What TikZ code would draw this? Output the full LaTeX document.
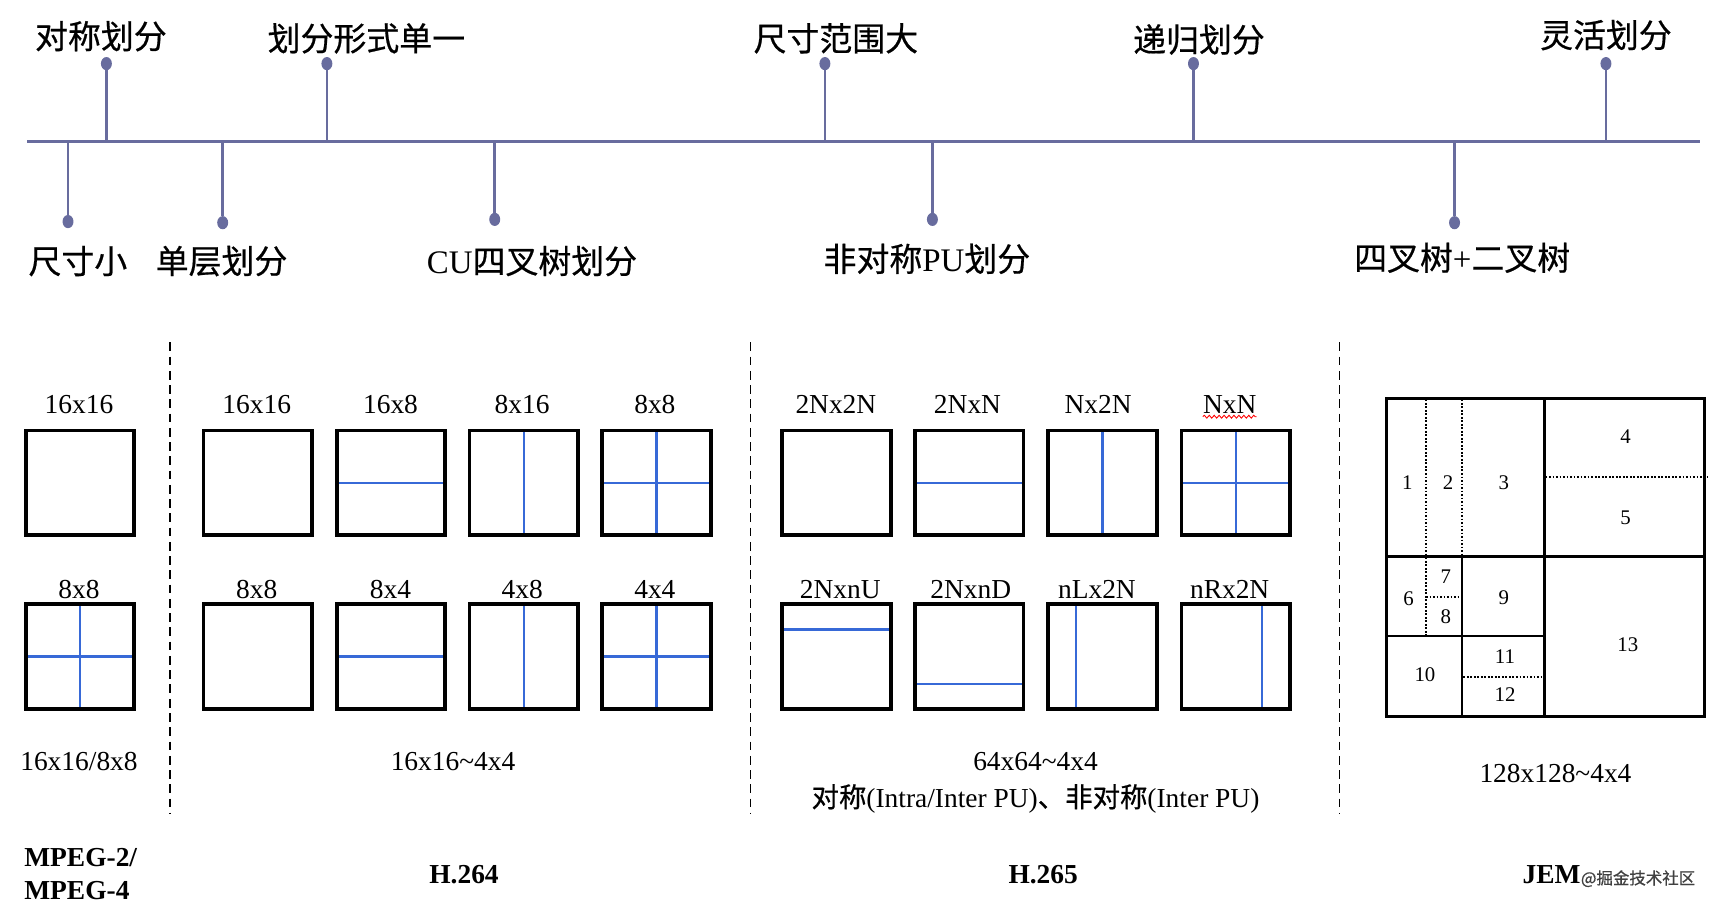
\documentclass[tikz,border=0pt]{standalone}
\usepackage{fontspec}
\setmainfont{Liberation Serif}
\newfontfamily\cjk[FakeBold=0.6]{Noto Sans CJK SC}
\usetikzlibrary{backgrounds,calc,decorations.pathmorphing,shapes.geometric}
\definecolor{tl}{RGB}{104,108,158}
\definecolor{pblue}{RGB}{55,105,215}
\newcommand\zh[1]{{\cjk #1}}
\begin{document}
\begin{tikzpicture}[x=1pt,y=-1pt,
  cell/.style={draw, line width=3.5pt, minimum width=99pt, minimum height=95pt, inner sep=0pt, outer sep=0pt},
  lbl/.style={font=\fontsize{25}{30}\selectfont, inner sep=0pt},
  zhlbl/.style={font=\fontsize{30}{36}\selectfont, inner sep=0pt},
  ttl/.style={font=\bfseries\fontsize{25}{30}\selectfont, inner sep=0pt},
  num/.style={font=\fontsize{19}{22}\selectfont, inner sep=0pt},
  dot/.style={ellipse, fill=tl, inner sep=0pt, minimum width=10pt, minimum height=12pt},
  tline/.style={tl, line width=3pt},
  stem/.style={tl, line width=2.5pt},
  split/.style={pblue, line width=2pt},
  sepline/.style={dash pattern=on 8pt off 5pt, line width=1.3pt},
  thick3/.style={line width=3pt},
  thin2/.style={line width=1.8pt},
  dots/.style={dash pattern=on 1.6pt off 1.6pt, line width=1.6pt}
]
\useasboundingbox (0,0) rectangle (1568,826);

% ---------- timeline ----------
\coordinate (tlA) at (25,129);
\coordinate (tlB) at (1550,129);
\draw[tline] (tlA) -- (tlB);

% upward stems
\foreach \n/\x in {u1/97,u2/298,u3/752,u4/1088,u5/1464}{
  \coordinate (\n b) at (\x,129);
  \node[dot] (\n) at (\x,58) {};
  \draw[stem] (\n b) -- (\n);
}
% downward stems
\foreach \n/\x/\y in {d1/62/202,d2/203/203,d3/451/200,d4/850/200,d5/1326/203}{
  \coordinate (\n b) at (\x,129);
  \node[dot] (\n) at (\x,\y) {};
  \draw[stem] (\n b) -- (\n);
}

\node[zhlbl] (tu1) at (92,33) {\zh{对称划分}};
\node[zhlbl] (tu2) at (334,35) {\zh{划分形式单一}};
\node[zhlbl] (tu3) at (762,35) {\zh{尺寸范围大}};
\node[zhlbl] (tu4) at (1093,36) {\zh{递归划分}};
\node[zhlbl] (tu5) at (1464,32) {\zh{灵活划分}};
\node[zhlbl] (td1) at (71,238) {\zh{尺寸小}};
\node[zhlbl] (td2) at (202,238) {\zh{单层划分}};
\node[zhlbl] (td3) at (485,238) {CU\zh{四叉树划分}};
\node[zhlbl] (td4) at (845,236) {\zh{非对称}PU\zh{划分}};
\node[zhlbl] (td5) at (1333,235) {\zh{四叉树}+\zh{二叉树}};

% ---------- separators ----------
\foreach \n/\x in {s1/155,s2/684,s3/1221}{
  \coordinate (\n t) at (\x,312);
  \coordinate (\n b) at (\x,742);
  \draw[sepline] (\n t) -- (\n b);
}

% ---------- MPEG ----------
\node[cell] (m1) at (73,440) {};
\node[cell] (m2) at (73,598.5) {};
\node[lbl] (lm1) at (72,369) {16x16};
\node[lbl] (lm2) at (72,537) {8x8};

% ---------- H.264 ----------
\node[cell] (a1) at (235,440) {};
\node[cell] (a2) at (356.5,440) {};
\node[cell] (a3) at (477.5,440) {};
\node[cell] (a4) at (598.5,440) {};
\node[cell] (b1) at (235,598.5) {};
\node[cell] (b2) at (356.5,598.5) {};
\node[cell] (b3) at (477.5,598.5) {};
\node[cell] (b4) at (598.5,598.5) {};
\node[lbl] (la1) at (234,369) {16x16};
\node[lbl] (la2) at (356,369) {16x8};
\node[lbl] (la3) at (476,369) {8x16};
\node[lbl] (la4) at (597,369) {8x8};
\node[lbl] (lb1) at (234,537) {8x8};
\node[lbl] (lb2) at (356,537) {8x4};
\node[lbl] (lb3) at (476,537) {4x8};
\node[lbl] (lb4) at (597,537) {4x4};

% ---------- H.265 ----------
\node[cell] (c1) at (762.5,440) {};
\node[cell] (c2) at (883.5,440) {};
\node[cell] (c3) at (1005,440) {};
\node[cell] (c4) at (1126.5,440) {};
\node[cell] (e1) at (762.5,598.5) {};
\node[cell] (e2) at (883.5,598.5) {};
\node[cell] (e3) at (1005,598.5) {};
\node[cell] (e4) at (1126.5,598.5) {};
\node[lbl] (lc1) at (762,369) {2Nx2N};
\node[lbl] (lc2) at (882,369) {2NxN};
\node[lbl] (lc3) at (1001,369) {Nx2N};
\node[lbl] (lc4) at (1121,369) {NxN};
\node[lbl] (le1) at (766,537) {2NxnU};
\node[lbl] (le2) at (885,537) {2NxnD};
\node[lbl] (le3) at (1000,537) {nLx2N};
\node[lbl] (le4) at (1121,537) {nRx2N};
\draw[red, line width=0.8pt, decorate, decoration={snake, amplitude=1.3pt, segment length=4.5pt}]
  ($(lc4.south west)+(0,2.5)$) -- ($(lc4.south east)+(0,2.5)$);

% blue splits
\begin{scope}[on background layer]
  \draw[split] (m2.north) -- (m2.south);
  \draw[split] (m2.west) -- (m2.east);
  \draw[split] (a2.west) -- (a2.east);
  \draw[split] (a3.north) -- (a3.south);
  \draw[split] (a4.north) -- (a4.south);
  \draw[split] (a4.west) -- (a4.east);
  \draw[split] (b2.west) -- (b2.east);
  \draw[split] (b3.north) -- (b3.south);
  \draw[split] (b4.north) -- (b4.south);
  \draw[split] (b4.west) -- (b4.east);
  \draw[split] (c2.west) -- (c2.east);
  \draw[split] (c3.north) -- (c3.south);
  \draw[split] (c4.north) -- (c4.south);
  \draw[split] (c4.west) -- (c4.east);
  \draw[split] ($(e1.north west)!0.24!(e1.south west)$) -- ($(e1.north east)!0.24!(e1.south east)$);
  \draw[split] ($(e2.north west)!0.76!(e2.south west)$) -- ($(e2.north east)!0.76!(e2.south east)$);
  \draw[split] ($(e3.north west)!0.26!(e3.north east)$) -- ($(e3.south west)!0.26!(e3.south east)$);
  \draw[split] ($(e4.north west)!0.74!(e4.north east)$) -- ($(e4.south west)!0.74!(e4.south east)$);
\end{scope}

% ---------- JEM ----------
\node[draw, thick3, minimum width=290pt, minimum height=290pt, inner sep=0pt] (jem) at (1409,508) {};
\draw[thick3] (1408,363) -- (1408,653);
\draw[thick3] (1264,507) -- (1554,507);
\draw[thin2] (1264,580) -- (1408,580);
\draw[thin2] (1333,507) -- (1333,653);
\draw[dots] (1300,364) -- (1300,580);
\draw[dots] (1333,364) -- (1333,507);
\draw[dots] (1409,435) -- (1557,435);
\draw[dots] (1300,544) -- (1333,544);
\draw[dots] (1334,617) -- (1407,617);
\node[num] (n1) at (1283,440) {1};
\node[num] (n2) at (1320,440) {2};
\node[num] (n3) at (1371,440) {3};
\node[num] (n4) at (1482,398) {4};
\node[num] (n5) at (1482,472) {5};
\node[num] (n6) at (1284,546) {6};
\node[num] (n7) at (1318,526) {7};
\node[num] (n8) at (1318,562) {8};
\node[num] (n9) at (1371,545) {9};
\node[num] (n10) at (1299,615) {10};
\node[num] (n11) at (1372,599) {11};
\node[num] (n12) at (1372,633) {12};
\node[num] (n13) at (1484,588) {13};

% ---------- ranges ----------
\node[lbl] (r1) at (72,694) {16x16/8x8};
\node[lbl] (r2) at (413,694) {16x16\textasciitilde4x4};
\node[lbl] (r3) at (944,694) {64x64\textasciitilde4x4};
\node[lbl] (r3b) at (944,728) {\zh{对称}(Intra/Inter PU)\zh{、非对称}(Inter PU)};
\node[lbl] (r4) at (1418,705) {128x128\textasciitilde4x4};

% ---------- standards ----------
\node[ttl, align=left, anchor=west] (st1) at (22,797) {MPEG-2/\\MPEG-4};
\node[ttl] (st2) at (423,797) {H.264};
\node[ttl] (st3) at (951,797) {H.265};
\node[ttl, anchor=east] (st4) at (1441,797) {JEM};
\node[inner sep=0pt, anchor=west, font=\cjk\fontsize{15}{18}\selectfont, text=black!75] (wm) at (1441,801) {@掘金技术社区};
\end{tikzpicture}
\end{document}
